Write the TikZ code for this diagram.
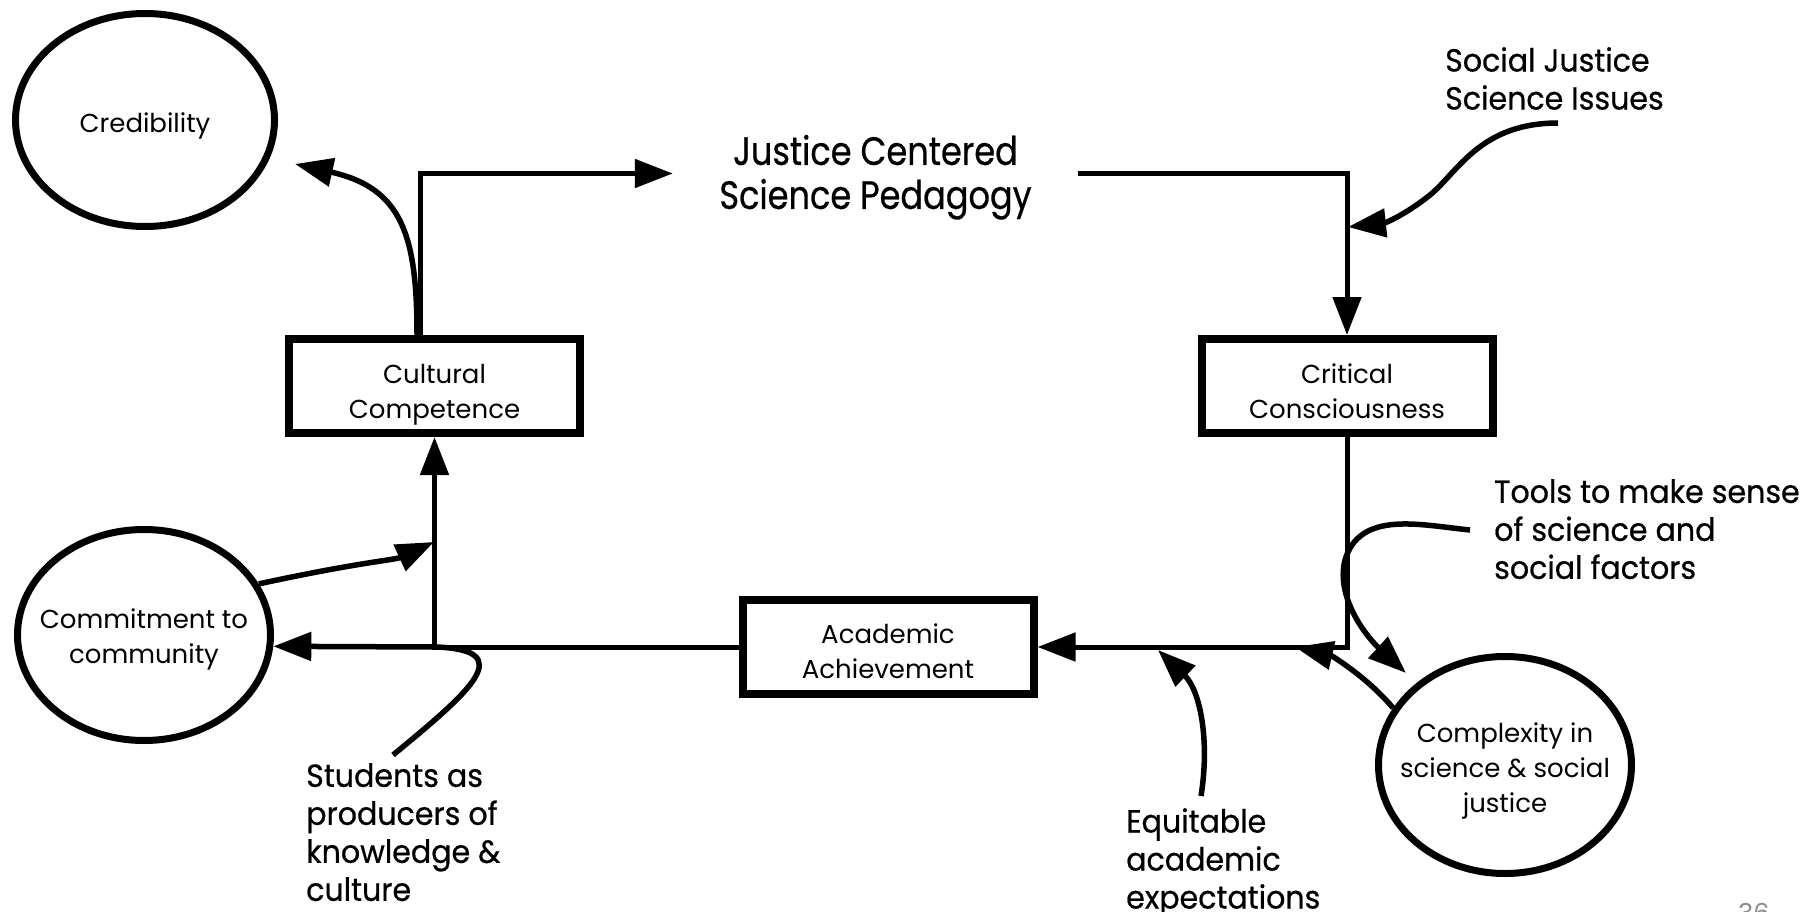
\documentclass[tikz,border=0pt]{standalone}
\usepackage{fontspec}
\setmainfont{Poppins}
\newfontfamily\lblfont{Poppins}
\newfontfamily\annfont[FakeStretch=0.94,FakeBold=0.6]{Poppins}
\newfontfamily\ttlfont[FakeStretch=0.85,FakeBold=0.6]{Poppins}
\usetikzlibrary{arrows.meta,shapes.geometric}
\newcommand\lowr[2]{\raisebox{#1}[0pt][0pt]{\makebox[0pt]{\begin{tabular}[t]{@{}c@{}}#2\end{tabular}}}}
\tikzset{
  box/.style={draw, line width=8pt, minimum width=291pt, minimum height=94pt, inner sep=0pt, font=\lblfont\fontsize{26}{35}\selectfont},
  oval/.style={draw, ellipse, line width=7pt, inner sep=0pt, font=\lblfont\fontsize{26}{35}\selectfont},
  conn/.style={line width=5pt},
  curv/.style={line width=5.5pt},
  arr/.style={-{Triangle[length=38pt,width=28pt]}},
  ann/.style={font=\annfont\fontsize{32}{38}\selectfont, align=left, inner sep=0pt, anchor=north west},
  ttl/.style={font=\ttlfont\fontsize{39.5}{44}\selectfont, inner sep=0pt, minimum width=405pt, minimum height=90pt},
}
\begin{document}
\begin{tikzpicture}[x=1pt,y=-1pt]
\useasboundingbox (0,0) rectangle (1802,912);
% nodes
\node[oval, minimum width=259pt, minimum height=213pt] (cred) at (145,120) {\lowr{-12.95pt}{Credibility}};
\node[oval, minimum width=253pt, minimum height=211pt] (comm) at (144,635) {\lowr{6.85pt}{Commitment to\\community}};
\node[oval, minimum width=253pt, minimum height=217pt] (cplx) at (1505,765) {\lowr{22.85pt}{Complexity in\\science \& social\\justice}};
\node[box] (cult) at (434.5,386) {\lowr{2.65pt}{Cultural\\Competence}};
\node[box] (crit) at (1347,386) {\lowr{2.65pt}{Critical\\Consciousness}};
\node[box] (acad) at (888,647) {\lowr{3.35pt}{Academic\\Achievement}};
\node[ttl] (just) at (875.5,173.5) {\lowr{8.6pt}{Justice Centered\\Science Pedagogy}};
\node[ann] (sj) at (1445,47) {Social Justice\\Science Issues};
\node[ann] (tools) at (1494,479) {Tools to make sense\\of science and\\social factors};
\node[ann] (stud) at (306,763) {Students as\\producers of\\knowledge \&\\culture};
\node[ann] (equi) at (1126,808) {Equitable\\academic\\expectations};
\node[font=\lblfont\fontsize{26}{30}\selectfont, text=black!45, anchor=north, inner sep=0pt] (pg) at (1754,903) {36};
% helper coordinates
\coordinate (lx) at (420,0);
\coordinate (cx) at (417,0);
\coordinate (credtip) at (295,164);
\coordinate (cmtip) at (434,542);
\coordinate (sjtip) at (1348,227);
\coordinate (sjst) at (1558,123);
\coordinate (tlst) at (1470,530);
\coordinate (tltip) at (1406,673);
\coordinate (cxtip) at (1295,647);
\coordinate (eqst) at (1201,796);
\coordinate (eqtip) at (1158,650);
\coordinate (stst) at (393,755);
\coordinate (stj) at (436,647);
% main loop
\draw[conn,arr] (cult.north -| lx) |- (just.west);
\draw[conn,arr] (just.east) -| (crit.north);
\draw[conn,arr] (crit.south) |- (acad.east);
\draw[conn,arr] (acad.west) -| (cult.south);
% curved arrows
\draw[curv,arr] (cult.north -| cx) .. controls (417,235) and (402,188) .. (credtip);
\draw[curv,arr] (comm.24) .. controls (360,562) and (395,560) .. (cmtip);
\draw[curv,arr] (stst) .. controls (472,690) and (518,650) .. (stj) -- (comm.-5);
\draw[curv,arr] (sjst) .. controls (1480,123) and (1458,172) .. (1430,195) .. controls (1405,215) and (1385,223) .. (sjtip);
\draw[curv,arr] (tlst) .. controls (1420,525) and (1360,510) .. (1345,560) .. controls (1335,600) and (1370,640) .. (tltip);
\draw[curv,arr] (cplx.153) .. controls (1365,675) and (1330,655) .. (cxtip);
\draw[curv,arr] (eqst) .. controls (1210,740) and (1200,690) .. (eqtip);
\end{tikzpicture}
\end{document}
